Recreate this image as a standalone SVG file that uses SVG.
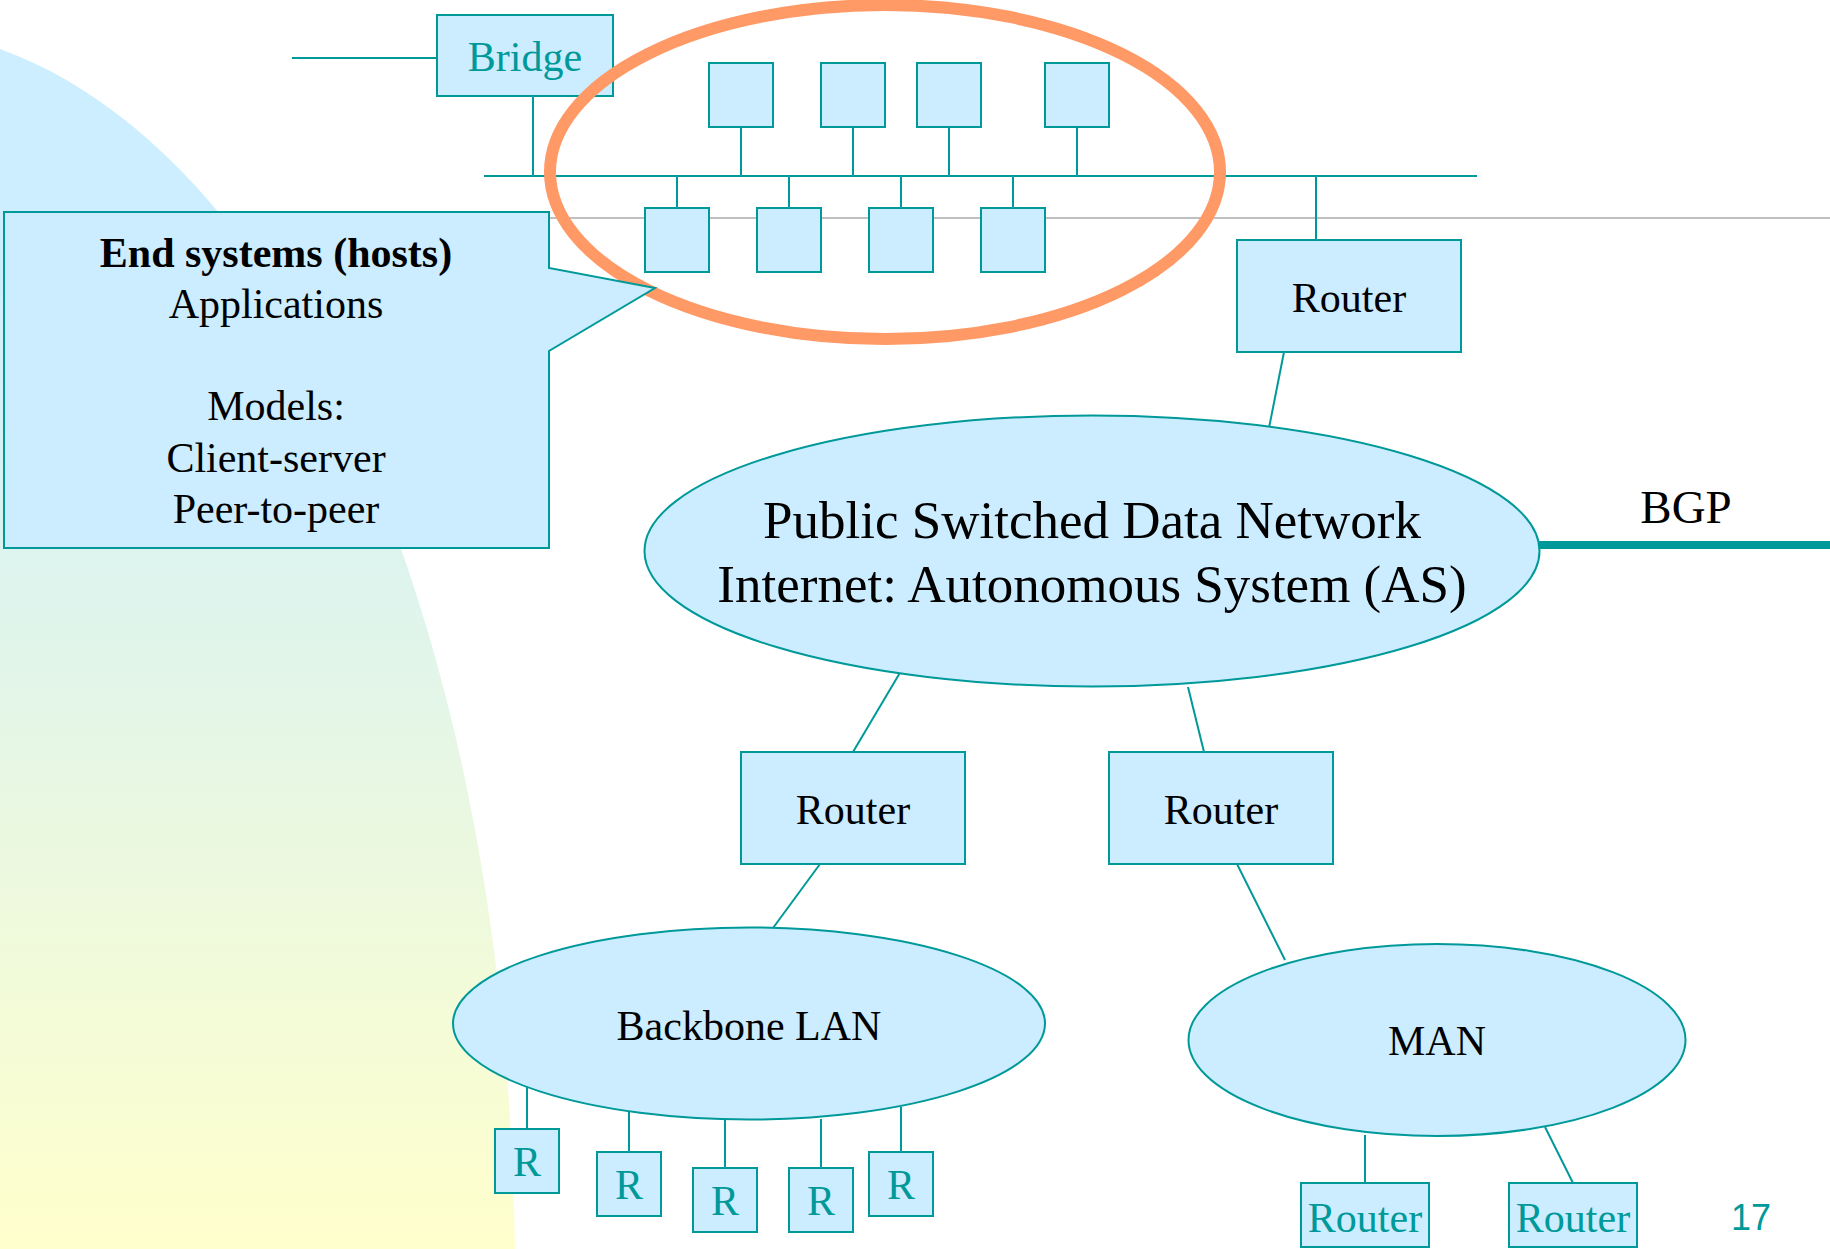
<svg xmlns="http://www.w3.org/2000/svg" width="1830" height="1249" viewBox="0 0 1830 1249">
<defs>
<linearGradient id="bg" gradientUnits="userSpaceOnUse" x1="0" y1="220" x2="0" y2="1249">
<stop offset="0" stop-color="#cceeff"/>
<stop offset="1" stop-color="#ffffcc"/>
</linearGradient>
<style>
.box{fill:#ccecff;stroke:#009999;stroke-width:2}
.ln{stroke:#009999;stroke-width:2;fill:none}
.t{font-family:"Liberation Serif","Times New Roman",serif;font-size:42px;fill:#000;text-anchor:middle}
.teal{fill:#009999}
.big{font-size:53px}
.bgp{font-size:47px}
</style>
</defs>
<rect width="1830" height="1249" fill="#ffffff"/>
<path d="M0,49 C280,150 505,600 515,1249 L0,1249 Z" fill="url(#bg)"/>
<line x1="549" y1="218" x2="1830" y2="218" stroke="#c0c0c0" stroke-width="2"/>

<g id="connectors">
<line class="ln" x1="292" y1="58" x2="437" y2="58"/>
<line class="ln" x1="533" y1="96" x2="533" y2="176"/>
<line class="ln" x1="484" y1="176" x2="1477" y2="176"/>
<line class="ln" x1="741" y1="127" x2="741" y2="176"/>
<line class="ln" x1="853" y1="127" x2="853" y2="176"/>
<line class="ln" x1="949" y1="127" x2="949" y2="176"/>
<line class="ln" x1="1077" y1="127" x2="1077" y2="176"/>
<line class="ln" x1="677" y1="176" x2="677" y2="208"/>
<line class="ln" x1="789" y1="176" x2="789" y2="208"/>
<line class="ln" x1="901" y1="176" x2="901" y2="208"/>
<line class="ln" x1="1013" y1="176" x2="1013" y2="208"/>
<line class="ln" x1="1316" y1="176" x2="1316" y2="240"/>
<line class="ln" x1="1284" y1="352" x2="1269" y2="428"/>
<line class="ln" x1="901" y1="671" x2="853" y2="752"/>
<line class="ln" x1="1188" y1="687" x2="1204" y2="752"/>
<line class="ln" x1="820" y1="864" x2="773" y2="928"/>
<line class="ln" x1="1237" y1="864" x2="1285" y2="960"/>
<line class="ln" x1="527" y1="1087" x2="527" y2="1129"/>
<line class="ln" x1="629" y1="1112" x2="629" y2="1152"/>
<line class="ln" x1="725" y1="1119" x2="725" y2="1168"/>
<line class="ln" x1="821" y1="1119" x2="821" y2="1168"/>
<line class="ln" x1="901" y1="1107" x2="901" y2="1152"/>
<line class="ln" x1="1365" y1="1135" x2="1365" y2="1183"/>
<line class="ln" x1="1545" y1="1127" x2="1573" y2="1183"/>
<line x1="1538" y1="545" x2="1830" y2="545" stroke="#009999" stroke-width="8"/>
</g>

<g id="bridge">
<rect class="box" x="437" y="15" width="176" height="81"/>
<text class="t teal" x="525" y="71">Bridge</text>
</g>
<g id="hosts-top">
<rect class="box" x="709" y="63" width="64" height="64"/>
<rect class="box" x="821" y="63" width="64" height="64"/>
<rect class="box" x="917" y="63" width="64" height="64"/>
<rect class="box" x="1045" y="63" width="64" height="64"/>
</g>
<g id="hosts-bottom">
<rect class="box" x="645" y="208" width="64" height="64"/>
<rect class="box" x="757" y="208" width="64" height="64"/>
<rect class="box" x="869" y="208" width="64" height="64"/>
<rect class="box" x="981" y="208" width="64" height="64"/>
</g>
<g id="end-systems-highlight">
<ellipse cx="885" cy="172" rx="335" ry="167" fill="none" stroke="#ff9966" stroke-width="12"/>
</g>
<g id="callout">
<path class="box" d="M4,212 L549,212 L549,268 L655,288 L549,351 L549,548 L4,548 Z"/>
<text class="t" x="276" y="267" font-weight="bold">End systems (hosts)</text>
<text class="t" x="276" y="318">Applications</text>
<text class="t" x="276" y="420">Models:</text>
<text class="t" x="276" y="472">Client-server</text>
<text class="t" x="276" y="523">Peer-to-peer</text>
</g>
<g id="router-top">
<rect class="box" x="1237" y="240" width="224" height="112"/>
<text class="t" x="1349" y="312">Router</text>
</g>
<g id="psdn">
<ellipse class="box" cx="1092" cy="551" rx="447.5" ry="135.5"/>
<text class="t big" x="1092" y="538">Public Switched Data Network</text>
<text class="t big" x="1092" y="602">Internet: Autonomous System (AS)</text>
</g>
<g id="bgp">
<text class="t bgp" x="1686" y="523">BGP</text>
</g>
<g id="router-left">
<rect class="box" x="741" y="752" width="224" height="112"/>
<text class="t" x="853" y="824">Router</text>
</g>
<g id="router-right">
<rect class="box" x="1109" y="752" width="224" height="112"/>
<text class="t" x="1221" y="824">Router</text>
</g>
<g id="backbone-lan">
<ellipse class="box" cx="749" cy="1023.5" rx="296" ry="96"/>
<text class="t" x="749" y="1040">Backbone LAN</text>
</g>
<g id="r1"><rect class="box" x="495" y="1129" width="64" height="64"/><text class="t teal" x="527" y="1176">R</text></g>
<g id="r2"><rect class="box" x="597" y="1152" width="64" height="64"/><text class="t teal" x="629" y="1199">R</text></g>
<g id="r3"><rect class="box" x="693" y="1168" width="64" height="64"/><text class="t teal" x="725" y="1215">R</text></g>
<g id="r4"><rect class="box" x="789" y="1168" width="64" height="64"/><text class="t teal" x="821" y="1215">R</text></g>
<g id="r5"><rect class="box" x="869" y="1152" width="64" height="64"/><text class="t teal" x="901" y="1199">R</text></g>
<g id="man">
<ellipse class="box" cx="1437" cy="1040" rx="248.5" ry="96"/>
<text class="t" x="1437" y="1055">MAN</text>
</g>
<g id="man-router-1"><rect class="box" x="1301" y="1183" width="128" height="64"/><text class="t teal" x="1365" y="1232">Router</text></g>
<g id="man-router-2"><rect class="box" x="1509" y="1183" width="128" height="64"/><text class="t teal" x="1573" y="1232">Router</text></g>
<text x="1751" y="1230" font-family="Liberation Sans, Arial, sans-serif" font-size="36" fill="#009999" text-anchor="middle">17</text>
</svg>
